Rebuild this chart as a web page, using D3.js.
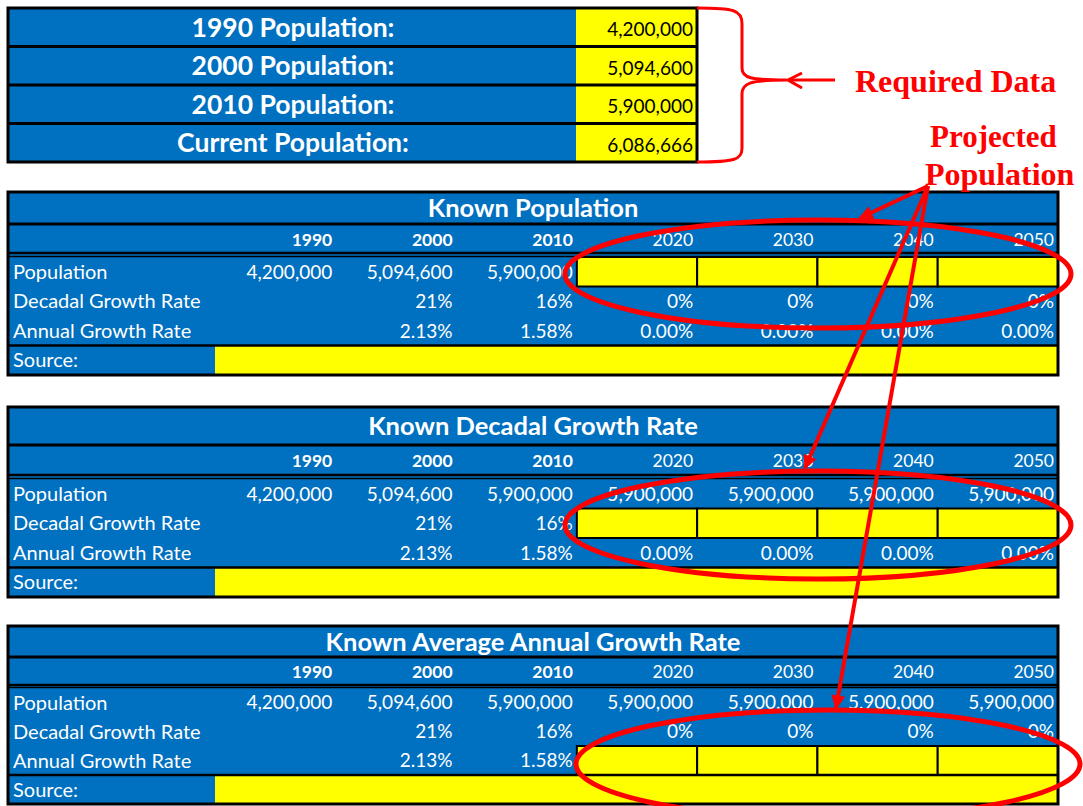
<!DOCTYPE html>
<html>
<head>
<meta charset="utf-8">
<script src="https://cdn.jsdelivr.net/npm/d3@7"></script>
<style>
  body { margin: 0; background: #fff; }
  svg { display: block; }
  text { font-variant-ligatures: none; }
</style>
</head>
<body>
<svg id="chart"></svg>
<script>
// Values
const years = [1990, 2000, 2010, 2020, 2030, 2040, 2050];
const knownYears = [1990, 2000, 2010];
const requiredLabels = ["1990 Population:", "2000 Population:", "2010 Population:", "Current Population:"];
const requiredValues = [4200000, 5094600, 5900000, 6086666];
const rowLabels = ["Population", "Decadal Growth Rate", "Annual Growth Rate"];
const population = [4200000, 5094600, 5900000, 5900000, 5900000, 5900000, 5900000];
const decadalRate = [null, 0.21, 0.16, 0, 0, 0, 0];
const annualRate = [null, 0.0213, 0.0158, 0, 0, 0, 0];
const tableTitles = ["Known Population", "Known Decadal Growth Rate", "Known Average Annual Growth Rate"];
const inputRow = [0, 1, 2]; // which row is the yellow input for projected years

const width = 1083;
const height = 806;
const blue = "#0070C0";
const yellow = "#FFFF00";
const red = "#FF0000";
const font = "Lato, 'Open Sans', sans-serif";

const svg = d3.select("#chart").attr("width", width).attr("height", height);
svg.append("rect").attr("width", width).attr("height", height).attr("fill", "#fff");

const formats = [d3.format(","), d3.format(".0%"), d3.format(".2%")];
const rowValues = [population, decadalRate, annualRate];

// ---- Required data block ----
const req = svg.append("g");
const reqY = d3.scaleBand().domain(d3.range(requiredLabels.length)).range([8, 162]);
req.append("rect")
  .attr("x", 8).attr("y", 8).attr("width", 689).attr("height", 154)
  .attr("fill", blue);
req.selectAll("rect.val")
  .data(requiredValues)
  .enter()
  .append("rect")
  .attr("class", "val")
  .attr("x", 576)
  .attr("y", (d, i) => reqY(i))
  .attr("width", 121)
  .attr("height", reqY.bandwidth())
  .attr("fill", yellow);
req.selectAll("line.sep")
  .data(d3.range(1, requiredLabels.length))
  .enter()
  .append("line")
  .attr("class", "sep")
  .attr("x1", 8).attr("x2", 697)
  .attr("y1", (i) => reqY(i)).attr("y2", (i) => reqY(i))
  .attr("stroke", "#000").attr("stroke-width", 3);
req.append("rect")
  .attr("x", 8).attr("y", 8).attr("width", 689).attr("height", 154)
  .attr("fill", "none").attr("stroke", "#000").attr("stroke-width", 3);
req.selectAll("text.lab")
  .data(requiredLabels)
  .enter()
  .append("text")
  .attr("class", "lab")
  .attr("x", 293)
  .attr("y", (d, i) => reqY(i) + reqY.bandwidth() / 2)
  .attr("dy", "0.36em")
  .attr("text-anchor", "middle")
  .attr("fill", "#fff")
  .style("font", `bold 26.5px ${font}`)
  .text((d) => d);
req.selectAll("text.val")
  .data(requiredValues)
  .enter()
  .append("text")
  .attr("class", "val")
  .attr("x", 693)
  .attr("y", (d, i) => reqY(i) + reqY.bandwidth() / 2 + 2)
  .attr("dy", "0.36em")
  .attr("text-anchor", "end")
  .attr("fill", "#000")
  .style("font", `19px ${font}`)
  .text((d) => d3.format(",")(d));

// ---- Three projection tables ----
const tableLayout = [
  { top: 192, titleH: 32, headH: 29, gap: 4, rowH: 29.5 },
  { top: 407, titleH: 38, headH: 30, gap: 4, rowH: 29.5 },
  { top: 626, titleH: 31, headH: 28, gap: 3, rowH: 29 },
];
const left = 8;
const right = 1058;
const x = d3.scaleBand().domain(years).range([216, right]);

tableTitles.forEach((title, t) => {
  const L = tableLayout[t];
  const g = svg.append("g");
  const headTop = L.top + L.titleH;
  const bodyTop = headTop + L.headH + L.gap;
  const y = d3.scaleBand().domain(d3.range(4)).range([bodyTop, bodyTop + 4 * L.rowH]);
  const bottom = bodyTop + 4 * L.rowH;

  g.append("rect")
    .attr("x", left).attr("y", L.top)
    .attr("width", right - left).attr("height", bottom - L.top)
    .attr("fill", blue);

  // Source input cell
  g.append("rect")
    .attr("x", 215).attr("y", y(3))
    .attr("width", right - 215).attr("height", y.bandwidth())
    .attr("fill", yellow);

  // Yellow input cells for projected years
  const projected = years.filter((yr) => !knownYears.includes(yr));
  g.selectAll("rect.input")
    .data(projected)
    .enter()
    .append("rect")
    .attr("class", "input")
    .attr("x", (yr) => x(yr))
    .attr("y", y(inputRow[t]))
    .attr("width", x.bandwidth())
    .attr("height", y.bandwidth())
    .attr("fill", yellow)
    .attr("stroke", "#000")
    .attr("stroke-width", 2);

  // Rule lines
  [
    { y: headTop, w: 3 },
    { y: headTop + L.headH, w: 2.5 },
    { y: bodyTop - 0.5, w: 1.5 },
    { y: y(3), w: 2.5 },
  ].forEach((r) => {
    g.append("line")
      .attr("x1", left).attr("x2", right)
      .attr("y1", r.y).attr("y2", r.y)
      .attr("stroke", "#000").attr("stroke-width", r.w);
  });

  g.append("rect")
    .attr("x", left).attr("y", L.top)
    .attr("width", right - left).attr("height", bottom - L.top)
    .attr("fill", "none").attr("stroke", "#000").attr("stroke-width", 3);

  // Title
  g.append("text")
    .attr("x", (left + right) / 2)
    .attr("y", L.top + L.titleH / 2)
    .attr("dy", "0.36em")
    .attr("text-anchor", "middle")
    .attr("fill", "#fff")
    .style("font", `bold 25.5px ${font}`)
    .text(title);

  // Year header
  g.selectAll("text.year")
    .data(years)
    .enter()
    .append("text")
    .attr("class", "year")
    .attr("x", (yr) => x(yr) + x.bandwidth() - 4)
    .attr("y", headTop + L.headH / 2 + 1)
    .attr("dy", "0.36em")
    .attr("text-anchor", "end")
    .attr("fill", "#fff")
    .style("font", (yr) => `${knownYears.includes(yr) ? "bold " : ""}17.5px ${font}`)
    .text((yr) => yr);

  // Row labels
  g.selectAll("text.rowlab")
    .data(rowLabels.concat(["Source:"]))
    .enter()
    .append("text")
    .attr("class", "rowlab")
    .attr("x", 13)
    .attr("y", (d, i) => y(i) + y.bandwidth() / 2)
    .attr("dy", "0.36em")
    .attr("fill", "#fff")
    .style("font", `20px ${font}`)
    .text((d) => d);

  // Cell values
  rowValues.forEach((vals, r) => {
    const cells = years
      .map((yr, i) => ({ yr, v: vals[i] }))
      .filter((c) => c.v !== null && !(r === inputRow[t] && !knownYears.includes(c.yr)));
    g.selectAll(`text.r${r}`)
      .data(cells)
      .enter()
      .append("text")
      .attr("class", `r${r}`)
      .attr("x", (c) => x(c.yr) + x.bandwidth() - 4)
      .attr("y", y(r) + y.bandwidth() / 2)
      .attr("dy", "0.36em")
      .attr("text-anchor", "end")
      .attr("fill", "#fff")
      .style("font", `19px ${font}`)
      .text((c) => formats[r](c.v));
  });
});

// ---- Red annotations ----
const ann = svg.append("g");
const defs = svg.append("defs");
defs.append("marker")
  .attr("id", "head")
  .attr("markerUnits", "userSpaceOnUse")
  .attr("viewBox", "0 0 10 10")
  .attr("refX", 9).attr("refY", 5)
  .attr("markerWidth", 18).attr("markerHeight", 14)
  .attr("orient", "auto")
  .append("path")
  .attr("d", "M0,0 L10,5 L0,10 Z")
  .attr("fill", red);

// Brace around the required data
ann.append("path")
  .attr("d", "M697,8 C734,8 742,10 742,24 L742,68 C742,78 750,80 787,80 C750,80 742,83 742,94 L742,148 C742,160 734,162 697,162")
  .attr("fill", "none").attr("stroke", red).attr("stroke-width", 3);
ann.append("line")
  .attr("x1", 835).attr("y1", 80).attr("x2", 788).attr("y2", 80)
  .attr("stroke", red).attr("stroke-width", 3);
ann.append("path")
  .attr("d", "M802,73 L788,80 L802,88")
  .attr("fill", "none").attr("stroke", red).attr("stroke-width", 3);

const serif = "'Liberation Serif', 'Times New Roman', serif";
ann.append("text")
  .attr("x", 855).attr("y", 92)
  .attr("fill", red)
  .style("font", `bold 32px ${serif}`)
  .text("Required Data");
ann.append("text")
  .attr("x", 930).attr("y", 147)
  .attr("fill", red)
  .style("font", `bold 31px ${serif}`)
  .text("Projected");
ann.append("text")
  .attr("x", 925).attr("y", 185)
  .attr("fill", red)
  .style("font", `bold 32px ${serif}`)
  .text("Population");

const ellipses = [
  { cx: 818, cy: 274, rx: 253, ry: 54 },
  { cx: 818, cy: 525, rx: 253, ry: 54 },
  { cx: 828, cy: 764, rx: 252, ry: 54 },
];
ann.selectAll("ellipse")
  .data(ellipses)
  .enter()
  .append("ellipse")
  .attr("cx", (d) => d.cx).attr("cy", (d) => d.cy)
  .attr("rx", (d) => d.rx).attr("ry", (d) => d.ry)
  .attr("fill", "none").attr("stroke", red).attr("stroke-width", 5);

const arrowTips = [
  [860, 218],
  [805, 468],
  [836, 708],
];
ann.selectAll("line.arrow")
  .data(arrowTips)
  .enter()
  .append("line")
  .attr("class", "arrow")
  .attr("x1", 928).attr("y1", 186)
  .attr("x2", (d) => d[0]).attr("y2", (d) => d[1])
  .attr("stroke", red).attr("stroke-width", 4)
  .attr("marker-end", "url(#head)");
</script>
</body>
</html>
